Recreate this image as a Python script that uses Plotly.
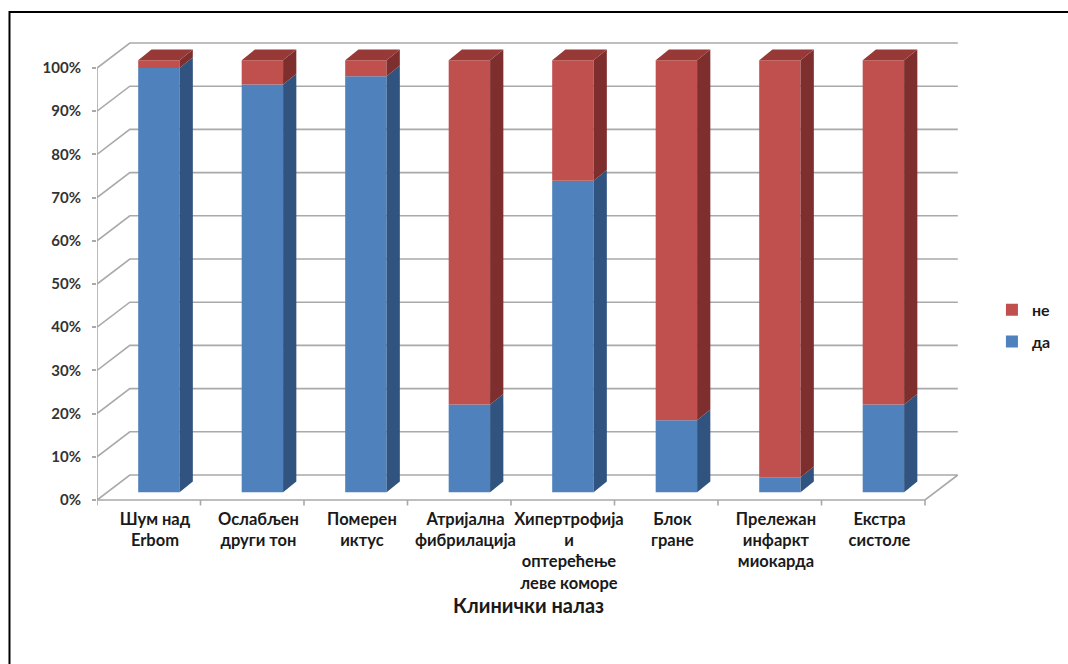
import plotly.graph_objects as go

# Клинички налаз — удео пацијената (%)
categories = [
    "Шум над<br>Erbom",
    "Ослабљен<br>други тон",
    "Померен<br>иктус",
    "Атријална<br>фибрилација",
    "Хипертрофија<br>и<br>оптерећење<br>леве коморе",
    "Блок<br>гране",
    "Прележан<br>инфаркт<br>миокарда",
    "Екстра<br>систоле",
]
da = [98.2, 94.4, 96.3, 20.3, 72.1, 16.7, 3.5, 20.3]
ne = [1.8, 5.6, 3.7, 79.7, 27.9, 83.3, 96.5, 79.7]
y_ticks = [0, 10, 20, 30, 40, 50, 60, 70, 80, 90, 100]

# pseudo-3D projection (in axis units)
WALL_DX, WALL_DY = 0.317, 5.79     # depth of the back wall
BAR_DX0, BAR_DY0 = 0.098, 1.78     # bar front face offset from front plane
BAR_W = 0.40                       # bar front width
SIDE_DX, SIDE_DY = 0.128, 2.48     # bar side/top depth

BLUE, BLUE_SIDE, BLUE_TOP = "#4f81bd", "#30547f", "#3d679a"
RED, RED_SIDE, RED_TOP = "#c0504d", "#7e2e2c", "#973936"
GRID = "#a9a9a9"
FONT = "Lato"

n = len(categories)
x_idx = list(range(n))
left_x, right_x = -0.5, n - 0.5


def polyline(points):
    return "M" + " L".join(f"{x},{y}" for x, y in points)


fig = go.Figure()

# walls: gridlines on the back wall with diagonals on the side wall (behind the bars)
paths = []
for v in y_ticks:
    paths.append(polyline([(left_x, v), (left_x + WALL_DX, v + WALL_DY), (right_x + WALL_DX, v + WALL_DY)]))
paths.append(polyline([(left_x, y_ticks[0]), (left_x, y_ticks[-1])]))
paths.append(polyline([(left_x, 0), (right_x, 0), (right_x + WALL_DX, WALL_DY)]))
for k in range(n + 1):
    paths.append(polyline([(left_x + k, 0), (left_x + k, -1.3)]))
fig.add_shape(type="path", xref="x", yref="y", path=" ".join(paths),
              line=dict(color=GRID, width=1.6), layer="below")

# bar front faces
xc = [i + BAR_DX0 for i in x_idx]
base_da = [BAR_DY0] * n
base_ne = [BAR_DY0 + d for d in da]
fig.add_trace(go.Bar(name="да", x=xc, y=da, base=base_da, width=BAR_W,
                     marker=dict(color=BLUE, line=dict(width=0)),
                     legendgroup="da", legendrank=2))
fig.add_trace(go.Bar(name="не", x=xc, y=ne, base=base_ne, width=BAR_W,
                     marker=dict(color=RED, line=dict(width=0)),
                     legendgroup="ne", legendrank=1))

# bar side and top faces
for i in x_idx:
    xl = xc[i] - BAR_W / 2
    xr = xc[i] + BAR_W / 2
    segs = [(base_da[i], base_da[i] + da[i], BLUE_SIDE), (base_ne[i], base_ne[i] + ne[i], RED_SIDE)]
    for b, t, col in segs:
        fig.add_trace(go.Scatter(
            x=[xr, xr + SIDE_DX, xr + SIDE_DX, xr, xr],
            y=[b, b + SIDE_DY, t + SIDE_DY, t, b],
            mode="lines", fill="toself", fillcolor=col, line=dict(width=0, color=col),
            hoverinfo="skip", showlegend=False))
    top = base_ne[i] + ne[i]
    top_col = RED_TOP if ne[i] > 0 else BLUE_TOP
    fig.add_trace(go.Scatter(
        x=[xl, xl + SIDE_DX, xr + SIDE_DX, xr, xl],
        y=[top, top + SIDE_DY, top + SIDE_DY, top, top],
        mode="lines", fill="toself", fillcolor=top_col, line=dict(width=0, color=top_col),
        hoverinfo="skip", showlegend=False))

# outer frame
fig.add_shape(type="rect", xref="paper", yref="paper", x0=-0.1014, x1=1.3, y0=-0.6, y1=1.06,
              line=dict(color="black", width=2), fillcolor="rgba(0,0,0,0)", layer="above")

fig.update_layout(
    width=1068, height=664,
    margin=dict(l=97, r=103, t=40, b=157),
    paper_bgcolor="white", plot_bgcolor="white",
    barmode="overlay",
    font=dict(family=FONT, size=14, color="#262626"),
    legend=dict(x=1.037, y=0.388, xanchor="left", yanchor="middle",
                font=dict(family=FONT, size=16, color="#1a1a1a", weight="bold"),
                traceorder="grouped", tracegroupgap=8, itemwidth=30),
    xaxis=dict(range=[left_x, left_x + 868 / 104.1], showgrid=False, zeroline=False,
               showline=False, tickmode="array", tickvals=[i + 0.06 for i in x_idx],
               ticktext=categories, ticks="", tickangle=0,
               tickfont=dict(family=FONT, size=16.5, color="#1a1a1a", weight="bold"),
               title=dict(text="Клинички налаз", standoff=6,
                          font=dict(family=FONT, size=20, color="#1a1a1a", weight="bold"))),
    yaxis=dict(range=[-7 / 4.32, 460 / 4.32], showgrid=False, zeroline=False, showline=False,
               tickmode="array", tickvals=y_ticks, ticktext=[f"{v}%" for v in y_ticks],
               ticks="outside", ticklen=4, tickcolor=GRID, tickwidth=1.5, ticklabelstandoff=8,
               tickfont=dict(family=FONT, size=15, color="#333333", weight="bold")),
)

fig.write_html("out.html")
